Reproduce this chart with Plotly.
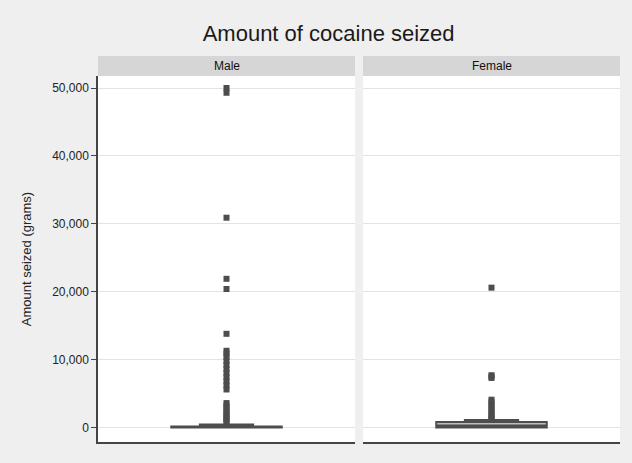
import plotly.graph_objects as go
from plotly.subplots import make_subplots

# ---- data ----
groups = ["Male", "Female"]
box_q1 = [0, 0]
box_median = [60, 280]
box_q3 = [150, 800]
box_lower = [0, 0]
box_upper = [450, 1100]

male_outliers = [50000, 49300, 30900, 21900, 20400, 13800, 11300, 10900, 10400,
                 9800, 9200, 8600, 8000, 7400, 6800, 6200, 5600,
                 3600, 3250, 2900, 2550, 2200, 1900, 1600, 1300, 1000, 750]
female_outliers = [20600, 7700, 7500, 7300, 4100, 3750, 3400, 3050, 2700,
                   2350, 2000, 1700, 1400, 1200]
outliers = [male_outliers, female_outliers]

y_ticks = [0, 10000, 20000, 30000, 40000, 50000]

title_text = "Amount of cocaine seized"
y_title = "Amount seized (grams)"

# ---- figure ----
W, H = 632, 463
L, R, T, B = 98, 12, 76, 21
pw = W - L - R
ph = H - T - B

fig = make_subplots(rows=1, cols=2, shared_yaxes=True, horizontal_spacing=8 / pw)

dark = "#4d4d4d"
for i, g in enumerate(groups):
    fig.add_trace(go.Box(
        x=[g], q1=[box_q1[i]], median=[box_median[i]], q3=[box_q3[i]],
        lowerfence=[box_lower[i]], upperfence=[box_upper[i]],
        width=0.43, boxpoints=False,
        line=dict(color=dark, width=2), fillcolor="#bdbdbd",
        showlegend=False, hoverinfo="skip"), row=1, col=i + 1)
    fig.add_trace(go.Scatter(
        x=[g] * len(outliers[i]), y=outliers[i], mode="markers",
        marker=dict(symbol="square", size=6, color=dark),
        showlegend=False), row=1, col=i + 1)

font_family = "Liberation Sans, Arial, sans-serif"
fig.update_layout(
    width=W, height=H,
    margin=dict(l=L, r=R, t=T, b=B),
    paper_bgcolor="#efefef",
    plot_bgcolor="#ffffff",
    font=dict(family=font_family, size=12, color="#222"),
    title=dict(text=title_text, x=0.52, xanchor="center",
               y=1 - 33 / H, yanchor="middle",
               font=dict(size=22, color="#1a1a1a")),
)

yr = [-2135, 51770]
fig.update_yaxes(range=yr, tickvals=y_ticks, tickformat=",",
                 tickfont=dict(color="#222", size=12),
                 showgrid=True, gridcolor="#e3e3e3", gridwidth=1,
                 zeroline=False, fixedrange=True)
fig.update_yaxes(row=1, col=1, showline=True, linecolor="#444", linewidth=1.5,
                 ticks="outside", ticklen=5, tickcolor="#444",
                 title=dict(text=y_title, font=dict(size=13, color="#222"),
                            standoff=18))
fig.update_yaxes(row=1, col=2, showline=False, ticks="")
fig.update_xaxes(showticklabels=False, ticks="", showgrid=False,
                 showline=True, linecolor="#444", linewidth=1.5,
                 range=[-0.5, 0.5], fixedrange=True)

# strip headers
strip_h = 20 / ph
for i, g in enumerate(groups):
    xref = "x domain" if i == 0 else "x2 domain"
    fig.add_shape(type="rect", xref=xref, yref="paper",
                  x0=0, x1=1, y0=1.0, y1=1.0 + strip_h,
                  fillcolor="#d6d6d6", line=dict(width=0), layer="below")
    fig.add_annotation(text=g, xref=xref, yref="paper", x=0.5,
                       y=1.0 + strip_h / 2, showarrow=False,
                       font=dict(size=12, color="#111"),
                       xanchor="center", yanchor="middle")

fig.write_html("out.html",
               config={"displayModeBar": False},
               post_script="document.body.style.margin='0';"
                           "document.body.style.background='#efefef';")
